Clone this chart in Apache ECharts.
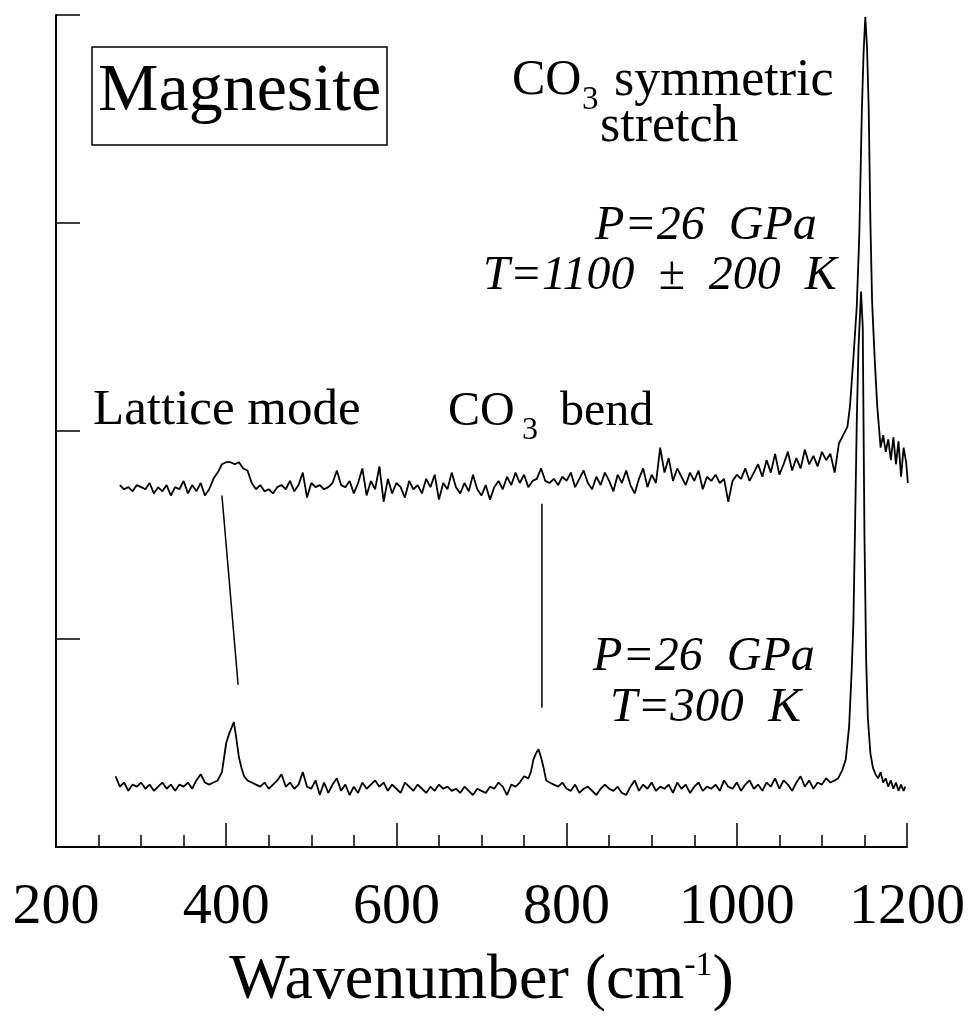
<!DOCTYPE html>
<html>
<head>
<meta charset="utf-8">
<script src="https://cdn.jsdelivr.net/npm/echarts@6/dist/echarts.min.js"></script>
<style>
  html, body { margin: 0; padding: 0; background: #fff; }
  #chart { width: 968px; height: 1018px; }
</style>
</head>
<body>
<div id="chart"></div>
<script>
// Raman spectra of magnesite (wavenumber, intensity offset)
// upper trace: P=26 GPa, T=1100 K
const upperSpectrum = [
  [275,1.74],[280,1.72],[285,1.73],[290,1.71],[295,1.74],[300,1.73],[305,1.72],[310,1.75],
  [315,1.70],[320,1.73],[325,1.71],[330,1.74],[335,1.69],[340,1.73],[345,1.72],[350,1.76],
  [355,1.70],[360,1.74],[365,1.71],[370,1.75],[375,1.69],[380,1.72],[385,1.77],[390,1.80],
  [395,1.84],[400,1.85],[405,1.85],[410,1.84],[415,1.85],[420,1.82],[425,1.81],[430,1.75],
  [435,1.72],[440,1.74],[445,1.71],[450,1.72],[455,1.70],[460,1.73],[465,1.74],[470,1.72],
  [475,1.76],[480,1.71],[485,1.74],[490,1.80],[495,1.68],[500,1.75],[505,1.73],[510,1.74],
  [515,1.72],[520,1.73],[525,1.75],[530,1.81],[535,1.74],[540,1.73],[545,1.76],[550,1.70],
  [555,1.75],[560,1.82],[565,1.69],[570,1.76],[575,1.72],[580,1.83],[585,1.66],[590,1.77],
  [595,1.70],[600,1.75],[605,1.73],[610,1.68],[615,1.76],[620,1.72],[625,1.74],[630,1.70],
  [635,1.77],[640,1.73],[645,1.79],[650,1.67],[655,1.75],[660,1.72],[665,1.80],[670,1.73],
  [675,1.70],[680,1.75],[685,1.71],[690,1.79],[695,1.72],[700,1.69],[705,1.74],[710,1.67],
  [715,1.73],[720,1.76],[725,1.72],[730,1.78],[735,1.74],[740,1.80],[745,1.75],[750,1.79],
  [755,1.73],[760,1.76],[765,1.77],[770,1.82],[775,1.76],[780,1.75],[785,1.77],[790,1.74],
  [795,1.78],[800,1.76],[805,1.80],[810,1.73],[815,1.77],[820,1.81],[825,1.75],[830,1.72],
  [835,1.78],[840,1.74],[845,1.80],[850,1.76],[855,1.71],[860,1.79],[865,1.75],[870,1.81],
  [875,1.74],[880,1.70],[885,1.77],[890,1.82],[895,1.73],[900,1.79],[905,1.75],[910,1.92],
  [915,1.80],[920,1.87],[925,1.76],[930,1.82],[935,1.78],[940,1.74],[945,1.80],[950,1.76],
  [955,1.81],[960,1.72],[965,1.78],[970,1.76],[975,1.79],[980,1.75],[985,1.77],[990,1.66],
  [995,1.76],[1000,1.79],[1005,1.77],[1010,1.82],[1015,1.76],[1020,1.80],[1025,1.84],[1030,1.78],
  [1035,1.86],[1040,1.80],[1045,1.89],[1050,1.79],[1055,1.84],[1060,1.90],[1065,1.81],[1070,1.87],
  [1075,1.82],[1080,1.91],[1085,1.84],[1090,1.88],[1095,1.83],[1100,1.90],[1105,1.86],[1110,1.89],
  [1115,1.80],[1120,1.94],[1125,1.98],[1130,2.02],[1133,2.12],[1137,2.35],[1141,2.60],[1144,2.95],
  [1147,3.55],[1149,3.82],[1151,3.99],[1153,3.85],[1155,3.55],[1157,3.00],[1159,2.62],[1162,2.35],
  [1165,2.12],[1169,1.92],[1172,1.98],[1175,1.90],[1178,1.96],[1181,1.86],[1184,1.97],[1187,1.84],
  [1190,1.95],[1193,1.78],[1196,1.92],[1199,1.85],[1201,1.75]
];

// lower trace: P=26 GPa, T=300 K
const lowerSpectrum = [
  [270,0.34],[275,0.29],[280,0.31],[285,0.27],[290,0.30],[295,0.29],[300,0.31],[305,0.28],
  [310,0.30],[315,0.27],[320,0.29],[325,0.31],[330,0.28],[335,0.30],[340,0.27],[345,0.30],
  [350,0.29],[355,0.31],[360,0.28],[365,0.32],[370,0.35],[375,0.31],[380,0.30],[385,0.31],
  [390,0.32],[395,0.36],[400,0.50],[403,0.54],[406,0.57],[409,0.60],[412,0.52],[415,0.43],
  [418,0.38],[421,0.34],[425,0.32],[430,0.31],[435,0.30],[440,0.29],[445,0.31],[450,0.28],
  [455,0.30],[460,0.32],[465,0.35],[470,0.29],[475,0.31],[480,0.28],[485,0.30],[490,0.36],
  [495,0.29],[500,0.28],[505,0.32],[510,0.25],[515,0.31],[520,0.26],[525,0.30],[530,0.33],
  [535,0.27],[540,0.30],[545,0.25],[550,0.29],[555,0.26],[560,0.31],[565,0.28],[570,0.30],
  [575,0.32],[580,0.29],[585,0.31],[590,0.27],[595,0.30],[600,0.28],[605,0.26],[610,0.31],
  [615,0.29],[620,0.27],[625,0.30],[630,0.28],[635,0.26],[640,0.29],[645,0.27],[650,0.30],
  [655,0.28],[660,0.29],[665,0.27],[670,0.28],[675,0.26],[680,0.29],[685,0.27],[690,0.25],
  [695,0.28],[700,0.27],[705,0.26],[710,0.29],[715,0.28],[720,0.31],[725,0.29],[730,0.25],
  [735,0.30],[740,0.29],[745,0.31],[750,0.34],[755,0.33],[758,0.36],[761,0.42],[764,0.45],
  [767,0.47],[770,0.43],[773,0.38],[776,0.32],[780,0.31],[785,0.30],[790,0.29],[795,0.31],
  [800,0.28],[805,0.27],[810,0.30],[815,0.26],[820,0.28],[825,0.29],[830,0.27],[835,0.25],
  [840,0.28],[845,0.30],[850,0.28],[855,0.27],[860,0.29],[865,0.26],[870,0.25],[875,0.29],
  [880,0.32],[885,0.27],[890,0.30],[895,0.28],[900,0.31],[905,0.27],[910,0.29],[915,0.28],
  [920,0.30],[925,0.26],[930,0.31],[935,0.28],[940,0.30],[945,0.26],[950,0.29],[955,0.31],
  [960,0.27],[965,0.29],[970,0.28],[975,0.30],[980,0.27],[985,0.32],[990,0.29],[995,0.28],
  [1000,0.31],[1005,0.27],[1010,0.30],[1015,0.32],[1020,0.28],[1025,0.30],[1030,0.27],[1035,0.31],
  [1040,0.29],[1045,0.33],[1050,0.28],[1055,0.32],[1060,0.30],[1065,0.27],[1070,0.31],[1075,0.34],
  [1080,0.29],[1085,0.32],[1090,0.28],[1095,0.31],[1100,0.30],[1105,0.33],[1110,0.31],[1115,0.32],
  [1119,0.33],[1124,0.37],[1128,0.42],[1132,0.58],[1135,0.85],[1137,1.08],[1139,1.55],[1141,2.05],
  [1143,2.40],[1146,2.67],[1148,2.50],[1149,2.00],[1150,1.50],[1152,0.90],[1154,0.62],[1157,0.45],
  [1160,0.38],[1163,0.35],[1166,0.33],[1169,0.36],[1172,0.31],[1175,0.33],[1178,0.29],[1181,0.32],
  [1184,0.28],[1187,0.31],[1190,0.27],[1193,0.30],[1196,0.27],[1198,0.29]
];

// guide lines linking the two traces (data units)
const latticeGuide = [[395, 1.69], [414, 0.78]];
const bendGuide = [[771, 1.65], [771, 0.67]];

const xRange = [200, 1200];
const xStep = 200;
const yRange = [0, 4];

const serif = '"Liberation Serif", "Times New Roman", serif';

function label(text, x, y, size, italic) {
  return {
    type: 'text', x: x, y: y, silent: true,
    style: {
      text: text, fill: '#000', fontSize: size, fontFamily: serif,
      fontStyle: italic ? 'italic' : 'normal',
      align: 'left', verticalAlign: 'middle'
    }
  };
}

const chart = echarts.init(document.getElementById('chart'));

chart.setOption({
  animation: false,
  backgroundColor: '#fff',
  grid: { left: 56, right: 58, top: 15, bottom: 170 },
  xAxis: {
    type: 'value',
    min: xRange[0], max: xRange[1], interval: xStep,
    name: 'Wavenumber (cm{sup|-1})',
    nameLocation: 'middle',
    nameGap: 102,
    nameTextStyle: {
      color: '#000', fontSize: 64, fontFamily: serif,
      rich: { sup: { fontSize: 34, fontFamily: serif, color: '#000', verticalAlign: 'top' } }
    },
    axisLine: { show: true, onZero: false, lineStyle: { color: '#000', width: 2 } },
    axisTick: { show: true, inside: true, length: 24, lineStyle: { color: '#000', width: 1.5 } },
    minorTick: { show: true, splitNumber: 4, length: 12, lineStyle: { color: '#000', width: 1.5 } },
    axisLabel: {
      color: '#000', fontSize: 58, fontFamily: serif, margin: 32,
      formatter: function (v) { return String(v); }
    },
    splitLine: { show: false },
    minorSplitLine: { show: false }
  },
  yAxis: {
    type: 'value',
    min: yRange[0], max: yRange[1], interval: 1,
    axisLine: { show: true, lineStyle: { color: '#000', width: 2 } },
    axisTick: { show: true, inside: true, length: 24, lineStyle: { color: '#000', width: 1.5 } },
    axisLabel: { show: false },
    splitLine: { show: false }
  },
  series: [
    {
      type: 'line', data: upperSpectrum, showSymbol: false, symbol: 'none',
      lineStyle: { color: '#000', width: 1.8 }, z: 3
    },
    {
      type: 'line', data: lowerSpectrum, showSymbol: false, symbol: 'none',
      lineStyle: { color: '#000', width: 1.8 }, z: 3
    },
    {
      type: 'line', data: latticeGuide, showSymbol: false, symbol: 'none',
      lineStyle: { color: '#000', width: 1.5 }
    },
    {
      type: 'line', data: bendGuide, showSymbol: false, symbol: 'none',
      lineStyle: { color: '#000', width: 1.5 }
    }
  ],
  graphic: [
    {
      type: 'rect', silent: true,
      shape: { x: 92, y: 47, width: 295, height: 98 },
      style: { fill: 'none', stroke: '#000', lineWidth: 1.5 }
    },
    label('Magnesite', 98, 92, 68, false),
    label('CO', 512, 81, 50, false),
    label('3', 582, 100, 33, false),
    label('symmetric', 614, 81, 52, false),
    label('stretch', 600, 127, 52, false),
    label('P=26  GPa', 595, 226, 48, true),
    label('T=1100  \u00b1  200  K', 483, 276, 48, true),
    label('Lattice mode', 93, 411, 51, false),
    label('CO', 448, 412, 48, false),
    label('3', 522, 431, 32, false),
    label('bend', 560, 412, 48, false),
    label('P=26  GPa', 593, 657, 48, true),
    label('T=300  K', 610, 708, 49, true)
  ]
});
</script>
</body>
</html>
